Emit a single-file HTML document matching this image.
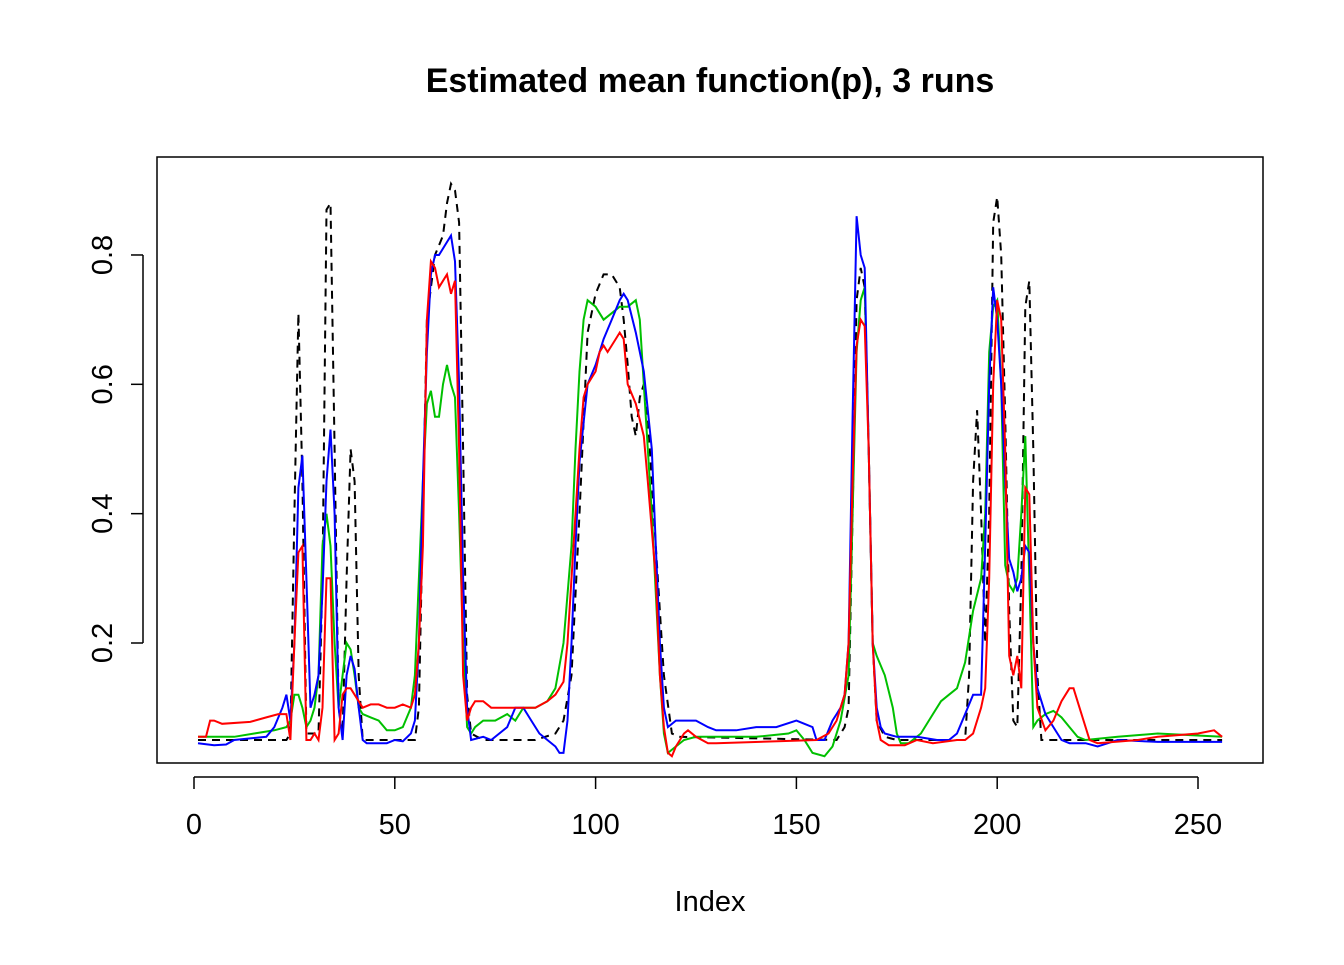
<!DOCTYPE html>
<html><head><meta charset="utf-8"><style>
body{margin:0;background:#fff}
svg text{font-family:"Liberation Sans",Arial,sans-serif}
</style></head><body>
<svg id="chart" width="1344" height="960" xmlns="http://www.w3.org/2000/svg">
<rect width="1344" height="960" fill="#fff"/>
<text x="710" y="92" text-anchor="middle" font-size="34" font-weight="bold">Estimated mean function(p), 3 runs</text>
<rect x="157" y="157" width="1106" height="606" fill="none" stroke="#000" stroke-width="1.5"/>
<text x="710" y="911" text-anchor="middle" font-size="29">Index</text>
<g id="axes"></g>
<g id="series"></g>
</svg>
<script>
const xTicks=[0,50,100,150,200,250];
const yTicks=[0.2,0.4,0.6,0.8];
const truthIdx=[1,23,24,25,26,27,28,31,32,33,34,35,36,37,38,39,40,41,42,55,56,57,58,60,62,63,64,65,66,67,68,69,72,85,90,92,94,96,98,100,102,104,106,107,108,109,110,111,112,113,115,117,119,121,160,162,163,164,165,166,167,168,169,170,172,175,192,193,194,195,196,197,198,199,200,201,202,203,204,205,206,207,208,209,210,211,256];
const truthVal=[0.05,0.05,0.06,0.4,0.71,0.45,0.06,0.06,0.3,0.87,0.88,0.5,0.1,0.06,0.3,0.5,0.45,0.15,0.05,0.05,0.1,0.4,0.7,0.8,0.83,0.88,0.91,0.9,0.85,0.5,0.12,0.06,0.05,0.05,0.06,0.08,0.15,0.4,0.68,0.74,0.77,0.77,0.75,0.7,0.63,0.55,0.52,0.58,0.6,0.55,0.35,0.15,0.06,0.055,0.05,0.07,0.1,0.4,0.73,0.78,0.75,0.5,0.2,0.08,0.055,0.05,0.05,0.15,0.45,0.56,0.4,0.2,0.4,0.85,0.89,0.8,0.55,0.25,0.08,0.07,0.3,0.72,0.76,0.5,0.15,0.05,0.05];
const blueIdx=[1,5,8,10,18,20,22,23,24,25,26,27,28,29,30,31,32,33,34,35,36,37,38,39,40,41,42,43,48,50,52,54,55,56,57,58,59,60,61,62,63,64,65,66,67,68,69,72,74,78,80,82,84,86,88,90,91,92,93,94,95,96,98,100,102,104,106,107,108,110,112,114,115,116,117,118,120,125,128,130,135,140,145,150,152,154,155,157,159,160,161,162,163,164,165,166,167,168,169,170,171,172,175,180,185,188,190,192,194,196,197,198,199,200,201,202,203,204,205,206,207,208,209,210,211,212,214,216,218,222,225,230,240,256];
const blueVal=[0.045,0.042,0.043,0.05,0.055,0.07,0.1,0.12,0.08,0.2,0.44,0.49,0.3,0.1,0.12,0.15,0.28,0.45,0.53,0.4,0.1,0.05,0.15,0.18,0.16,0.1,0.05,0.045,0.045,0.05,0.048,0.06,0.08,0.2,0.45,0.65,0.77,0.8,0.8,0.81,0.82,0.83,0.79,0.6,0.3,0.1,0.05,0.055,0.05,0.07,0.1,0.1,0.08,0.06,0.05,0.04,0.03,0.03,0.08,0.2,0.35,0.48,0.6,0.63,0.67,0.7,0.73,0.74,0.73,0.68,0.62,0.5,0.35,0.2,0.1,0.07,0.08,0.08,0.07,0.065,0.065,0.07,0.07,0.08,0.075,0.07,0.05,0.05,0.08,0.09,0.1,0.12,0.2,0.55,0.86,0.8,0.78,0.5,0.2,0.1,0.07,0.06,0.055,0.055,0.05,0.05,0.06,0.09,0.12,0.12,0.35,0.6,0.75,0.7,0.6,0.45,0.33,0.31,0.28,0.3,0.35,0.34,0.2,0.13,0.11,0.09,0.07,0.05,0.045,0.045,0.04,0.05,0.047,0.047];
const greenIdx=[1,10,15,20,23,24,25,26,27,28,29,30,31,32,33,34,35,36,37,38,39,40,41,42,44,46,48,50,52,54,55,56,57,58,59,60,61,62,63,64,65,66,67,68,69,70,72,75,78,80,82,84,85,88,90,92,94,95,96,97,98,100,102,104,106,108,110,111,112,114,116,117,118,120,122,125,140,148,150,152,154,157,159,161,163,164,165,166,167,168,169,170,172,174,175,176,178,181,184,186,188,190,192,194,196,197,198,199,200,201,202,203,204,205,206,207,208,209,210,212,214,216,218,220,222,230,240,256];
const greenVal=[0.055,0.055,0.06,0.065,0.07,0.08,0.12,0.12,0.1,0.07,0.08,0.1,0.15,0.35,0.4,0.35,0.2,0.1,0.15,0.2,0.19,0.15,0.1,0.09,0.085,0.08,0.065,0.065,0.07,0.1,0.15,0.3,0.45,0.57,0.59,0.55,0.55,0.6,0.63,0.6,0.58,0.4,0.2,0.07,0.06,0.07,0.08,0.08,0.09,0.08,0.1,0.1,0.1,0.11,0.13,0.2,0.35,0.5,0.62,0.7,0.73,0.72,0.7,0.71,0.72,0.72,0.73,0.7,0.6,0.4,0.15,0.06,0.03,0.04,0.05,0.055,0.055,0.06,0.065,0.05,0.03,0.025,0.04,0.08,0.15,0.4,0.65,0.73,0.75,0.5,0.2,0.18,0.15,0.1,0.06,0.045,0.045,0.06,0.09,0.11,0.12,0.13,0.17,0.25,0.3,0.4,0.65,0.72,0.73,0.6,0.32,0.29,0.28,0.3,0.4,0.52,0.3,0.07,0.08,0.09,0.095,0.085,0.07,0.055,0.05,0.055,0.06,0.055];
const redIdx=[1,3,4,5,7,14,18,21,23,24,25,26,27,28,29,30,31,32,33,34,35,36,37,38,39,40,42,44,46,48,50,52,54,55,56,57,58,59,60,61,62,63,64,65,66,67,68,69,70,72,74,76,80,82,84,85,88,90,92,93,95,96,97,98,100,101,102,103,104,105,106,107,108,110,112,113,115,116,117,118,119,120,122,123,125,128,130,155,158,160,162,163,164,165,166,167,168,169,170,171,173,177,180,184,190,192,194,196,197,198,199,200,201,202,203,204,205,206,207,208,209,210,212,214,216,218,219,221,223,225,235,240,250,254,256];
const redVal=[0.055,0.055,0.08,0.08,0.075,0.078,0.085,0.09,0.09,0.05,0.2,0.34,0.35,0.05,0.05,0.06,0.05,0.1,0.3,0.3,0.05,0.06,0.12,0.13,0.13,0.12,0.1,0.105,0.105,0.1,0.1,0.105,0.1,0.12,0.2,0.35,0.7,0.79,0.78,0.75,0.76,0.77,0.74,0.76,0.5,0.15,0.08,0.1,0.11,0.11,0.1,0.1,0.1,0.1,0.1,0.1,0.11,0.12,0.14,0.2,0.4,0.5,0.58,0.6,0.62,0.65,0.66,0.65,0.66,0.67,0.68,0.67,0.6,0.57,0.52,0.45,0.3,0.15,0.07,0.03,0.025,0.04,0.06,0.065,0.055,0.045,0.045,0.05,0.06,0.08,0.12,0.2,0.45,0.66,0.7,0.69,0.5,0.2,0.08,0.05,0.042,0.042,0.05,0.045,0.05,0.05,0.06,0.1,0.13,0.3,0.6,0.73,0.7,0.5,0.18,0.15,0.18,0.13,0.44,0.43,0.2,0.1,0.065,0.08,0.11,0.13,0.13,0.09,0.05,0.045,0.05,0.055,0.06,0.065,0.055];

const NS='http://www.w3.org/2000/svg';
function xs(i){return 194+i*4.016;}
function ys(v){return 643-(v-0.2)*646.7;}
const axes=document.getElementById('axes');
const ser=document.getElementById('series');
function mk(tag,attrs,parent){const e=document.createElementNS(NS,tag);for(const k in attrs)e.setAttribute(k,attrs[k]);parent.appendChild(e);return e;}
const xa=mk('line',{x1:xs(xTicks[0]),x2:xs(xTicks[xTicks.length-1]),y1:777,y2:777,stroke:'#000','stroke-width':1.5},axes);


xTicks.forEach(t=>{
  const l=mk('line',{x1:xs(t),x2:xs(t),y1:777,y2:789,stroke:'#000','stroke-width':1.5},axes);
  
  
  const tx=mk('text',{x:xs(t),y:834,'text-anchor':'middle','font-size':29},axes);
  tx.textContent=t;
  
  
});
const ya=mk('line',{x1:143,x2:143,y1:ys(yTicks[0]),y2:ys(yTicks[yTicks.length-1]),stroke:'#000','stroke-width':1.5},axes);


yTicks.forEach(t=>{
  const y=ys(t);
  const l=mk('line',{x1:131,x2:143,y1:y,y2:y,stroke:'#000','stroke-width':1.5},axes);
  
  
  const tx=mk('text',{x:112,y:y,'text-anchor':'middle','font-size':29,transform:`rotate(-90 112 ${y})`},axes);
  tx.textContent=t.toFixed(1);
  
  
});
function line(idx,val,color,dash,name){
  const d=idx.map((i,k)=>(k?'L':'M')+xs(i).toFixed(1)+' '+ys(val[k]).toFixed(1)).join(' ');
  const p=mk('path',{d:d,fill:'none',stroke:color,'stroke-width':2},ser);
  if(dash)p.setAttribute('stroke-dasharray',dash);
  
  
}
line(truthIdx,truthVal,'#000','8,6','true-mean-line');
line(greenIdx,greenVal,'#00c000',null,'run-green-line');
line(blueIdx,blueVal,'#0000ff',null,'run-blue-line');
line(redIdx,redVal,'#ff0000',null,'run-red-line');
</script>
</body></html>
